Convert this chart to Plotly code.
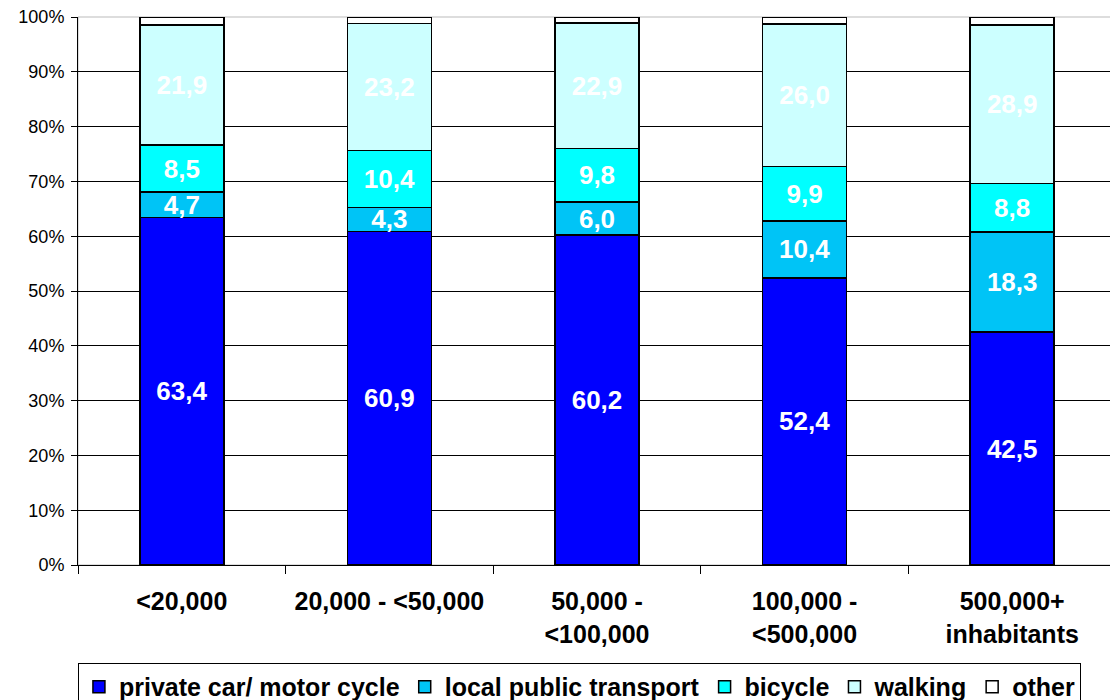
import plotly.graph_objects as go

categories = ["&lt;20,000", "20,000 - &lt;50,000", "50,000 -<br>&lt;100,000", "100,000 -<br>&lt;500,000", "500,000+<br>inhabitants"]
series_names = ["private car/ motor cycle", "local public transport", "bicycle", "walking", "other"]
car = [63.4, 60.9, 60.2, 52.4, 42.5]
public = [4.7, 4.3, 6.0, 10.4, 18.3]
bicycle = [8.5, 10.4, 9.8, 9.9, 8.8]
walking = [21.9, 23.2, 22.9, 26.0, 28.9]
other = [1.5, 1.2, 1.1, 1.3, 1.5]
colors = ["#0000FF", "#00C4F6", "#00FFFF", "#CCFFFF", "#FFFFFF"]

series = [car, public, bicycle, walking, other]
fig = go.Figure()
for name, vals, col in zip(series_names, series, colors):
    show_text = name != "other"
    fig.add_trace(go.Bar(
        x=categories, y=[v / 100 for v in vals], name="<b>" + name + "</b>",
        marker=dict(color=col, line=dict(color="black", width=1.5)),
        text=["<b>" + f"{v:.1f}".replace(".", ",") + "</b>" for v in vals] if show_text else None,
        textposition="inside" if show_text else "none",
        insidetextanchor="middle",
        constraintext="none",
        textfont=dict(color="white", size=26, family="Liberation Sans"),
        hoverinfo="skip",
    ))

# page body has an 8px margin, so the figure is sized/offset to compensate
fig.update_layout(
    barmode="stack", bargap=0.595,
    width=1110, height=692,
    margin=dict(l=70, r=2, t=9, b=135, autoexpand=False),
    paper_bgcolor="white", plot_bgcolor="white",
    font=dict(family="Liberation Sans", color="black"),
    showlegend=True,
    legend=dict(
        orientation="h", xref="container", yref="container",
        x=0.063, xanchor="left", y=0.0535, yanchor="top",
        bordercolor="black", borderwidth=1,
        font=dict(size=25, family="Liberation Sans"),
        itemclick=False, traceorder="normal", tracegroupgap=0,
        itemwidth=30,
    ),
    shapes=[dict(type="rect", xref="paper", yref="paper", x0=0, x1=1, y0=0, y1=1,
                 line=dict(color="#BBBBBB", width=1), layer="below")],
)
fig.update_yaxes(
    range=[0, 1], tickformat=".0%", dtick=0.1,
    showgrid=True, gridcolor="black", gridwidth=1,
    showline=True, linecolor="black", linewidth=1,
    ticks="outside", ticklen=6, tickcolor="black",
    tickfont=dict(size=18, family="Liberation Sans"),
    ticklabelstandoff=3, ticklabeloverflow="allow",
    zeroline=False, automargin=False,
)
fig.update_xaxes(
    showline=True, linecolor="black", linewidth=1,
    ticks="outside", ticklen=8, tickcolor="black", tickson="boundaries",
    tickfont=dict(size=25, family="Liberation Sans", weight="bold"),
    ticklabelstandoff=14, ticklabeloverflow="allow",
    automargin=False,
)
fig.write_html("out.html")
